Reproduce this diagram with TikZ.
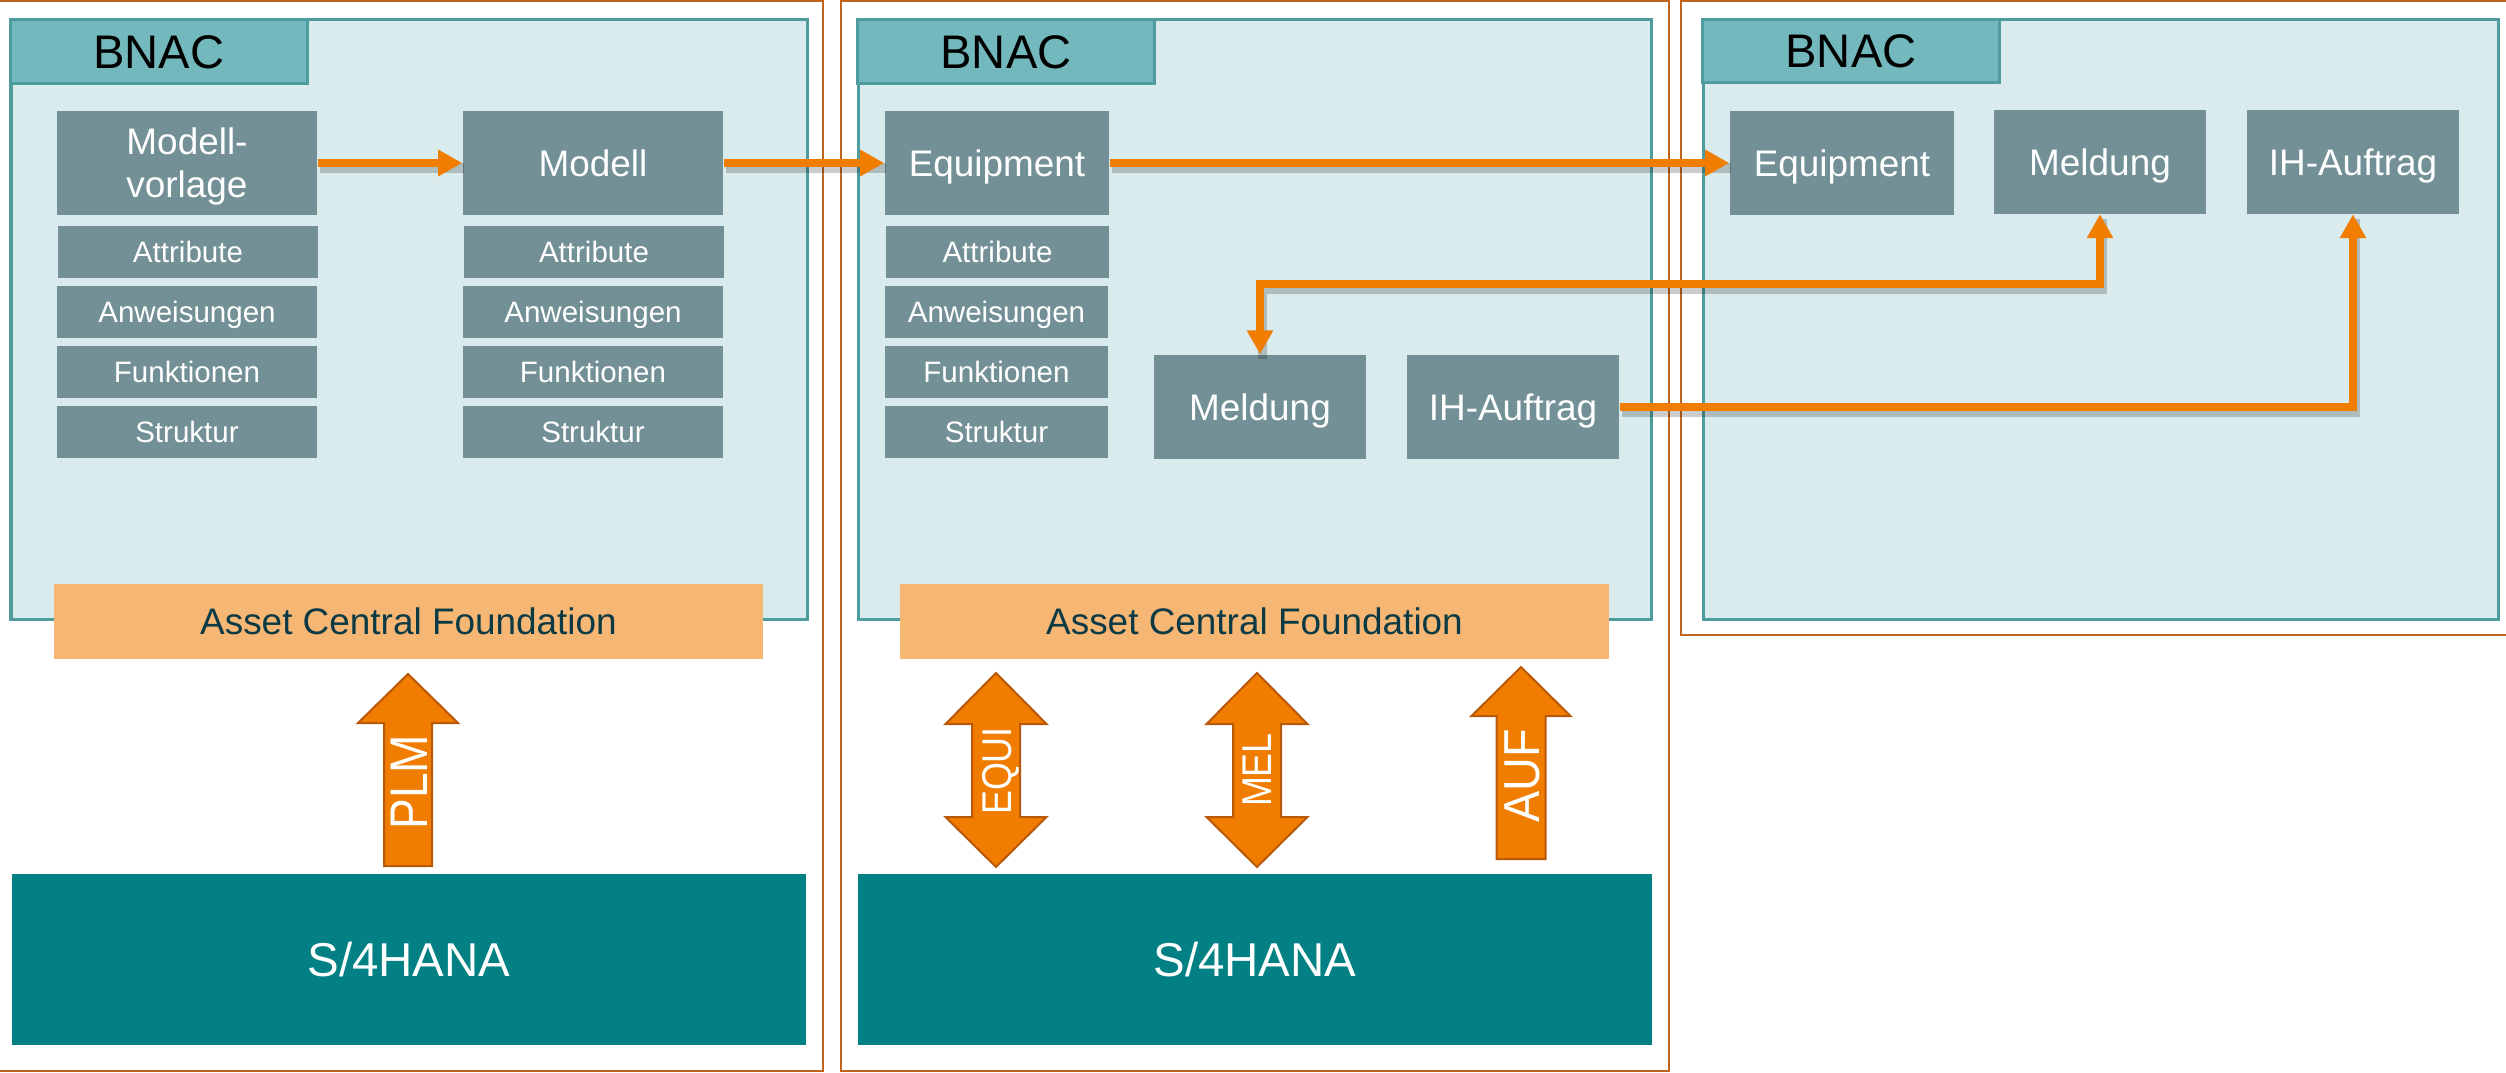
\documentclass[tikz,border=0pt]{standalone}
\usepackage{fontspec}
\setmainfont{Liberation Sans}
\usepackage{graphicx}
\usetikzlibrary{arrows.meta}
\definecolor{frameC}{HTML}{C0651E}
\definecolor{contF}{HTML}{DAEBEE}
\definecolor{contB}{HTML}{4E9C9E}
\definecolor{tabF}{HTML}{73B8BC}
\definecolor{boxF}{HTML}{729096}
\definecolor{arrC}{HTML}{F07C00}
\definecolor{arrB}{HTML}{B8590A}
\definecolor{acfF}{HTML}{F6B774}
\definecolor{acfT}{HTML}{0B3A45}
\definecolor{sfourF}{HTML}{028083}
\begin{document}
\begin{tikzpicture}[x=0.01cm,y=-0.01cm,
 frame/.style={draw=frameC,line width=0.025cm},
 cont/.style={draw=contB,fill=contF,line width=0.03cm},
 tabbox/.style={draw=contB,fill=tabF,line width=0.03cm,minimum width=2.96cm,minimum height=0.63cm,inner sep=0pt,font=\fontsize{13.4}{14}\selectfont,text height=9.6pt,text depth=0pt},
 gbox/.style={fill=boxF,text=white,inner sep=0pt,minimum height=1.04cm,font=\fontsize{10.5}{12.2}\selectfont,text height=7.5pt,text depth=0pt},
 sbox/.style={fill=boxF,text=white,inner sep=0pt,minimum height=0.51cm,font=\fontsize{8.4}{10}\selectfont,text height=6pt,text depth=0pt},
 acf/.style={fill=acfF,text=acfT,inner sep=0pt,minimum width=7.09cm,minimum height=0.75cm,font=\fontsize{10.5}{12}\selectfont,text height=7.5pt,text depth=0pt},
 sfour/.style={fill=sfourF,text=white,inner sep=0pt,minimum width=7.94cm,minimum height=1.71cm,font=\fontsize{13.5}{15}\selectfont,text height=9.7pt,text depth=0pt},
 conn/.style={draw=arrC,line width=0.075cm},
 shadowline/.style={draw=black,opacity=0.2,line width=0.09cm,transform canvas={xshift=0.02cm,yshift=-0.05cm}},
 otip/.tip={Triangle[length=0.24cm,width=0.25cm]},
 blockarrow/.style={fill=arrC,draw=arrB,line width=0.02cm,line join=miter},
 blabel/.style={text=white,rotate=90,inner sep=0pt,text depth=0pt}
]
\useasboundingbox (0,0) rectangle (2506,1073);
% outer frames
\draw[frame] (-2,1) rectangle (823,1071);
\draw[frame] (841,1) rectangle (1669,1071);
\draw[frame] (1681,1) rectangle (2515,635);
% containers
\draw[cont] (11,20) rectangle (807,619);
\draw[cont] (858,20) rectangle (1651,619);
\draw[cont] (1703,20) rectangle (2498,619);
\node[tabbox] (tab1) at (159,51.5) {BNAC};
\node[tabbox] (tab2) at (1006,51.5) {BNAC};
\node[tabbox] (tab3) at (1851,51) {BNAC};
% panel 1
\node[gbox,minimum width=2.60cm,align=center,text height=19.7pt,text depth=0pt] (mv) at (187,163) {Modell-\\vorlage};
\node[sbox,minimum width=2.60cm] (a1) at (188,252) {Attribute};
\node[sbox,minimum width=2.60cm] (w1) at (187,312) {Anweisungen};
\node[sbox,minimum width=2.60cm] (f1) at (187,372) {Funktionen};
\node[sbox,minimum width=2.60cm] (s1) at (187,432) {Struktur};
\node[gbox,minimum width=2.60cm] (mo) at (593,163) {Modell};
\node[sbox,minimum width=2.60cm] (a2) at (594,252) {Attribute};
\node[sbox,minimum width=2.60cm] (w2) at (593,312) {Anweisungen};
\node[sbox,minimum width=2.60cm] (f2) at (593,372) {Funktionen};
\node[sbox,minimum width=2.60cm] (s2) at (593,432) {Struktur};
% panel 2
\node[gbox,minimum width=2.24cm] (eq2) at (997,163) {Equipment};
\node[sbox,minimum width=2.23cm] (a3) at (997.5,252) {Attribute};
\node[sbox,minimum width=2.23cm] (w3) at (996.5,312) {Anweisungen};
\node[sbox,minimum width=2.23cm] (f3) at (996.5,372) {Funktionen};
\node[sbox,minimum width=2.23cm] (s3) at (996.5,432) {Struktur};
\node[gbox,minimum width=2.12cm] (me2) at (1260,407) {Meldung};
\node[gbox,minimum width=2.12cm] (ih2) at (1513,407) {IH-Auftrag};
% panel 3
\node[gbox,minimum width=2.24cm,minimum height=1.03cm] (eq3) at (1842,163) {Equipment};
\node[gbox,minimum width=2.12cm,minimum height=1.03cm] (me3) at (2100,162) {Meldung};
\node[gbox,minimum width=2.12cm,minimum height=1.03cm] (ih3) at (2353,162) {IH-Auftrag};
% foundation and S/4HANA
\node[acf] (acf1) at (408.5,621.5) {Asset Central Foundation};
\node[acf] (acf2) at (1254.5,621.5) {Asset Central Foundation};
\node[sfour] (sf1) at (409,959.5) {S/4HANA};
\node[sfour] (sf2) at (1255,959.5) {S/4HANA};
% block arrows
\draw[blockarrow] (408,674) -- (458,723) -- (432,723) -- (432,866) -- (384,866) -- (384,723) -- (358,723) -- cycle;
\node[blabel,font=\fontsize{13.1}{14}\selectfont] (plm) at (409,782) {\scalebox{1}[1.15]{PLM}};
\draw[blockarrow] (996,673) -- (1046.5,724) -- (1020,724) -- (1020,817) -- (1046.5,817) -- (996,867) -- (945.5,817) -- (972,817) -- (972,724) -- (945.5,724) -- cycle;
\node[blabel,font=\fontsize{10.2}{12}\selectfont] (equi) at (997,771) {\scalebox{1}[1.16]{EQUI}};
\draw[blockarrow] (1257,673) -- (1307.5,724) -- (1281,724) -- (1281,817) -- (1307.5,817) -- (1257,867) -- (1206.5,817) -- (1233,817) -- (1233,724) -- (1206.5,724) -- cycle;
\node[blabel,font=\fontsize{10.2}{12}\selectfont] (mel) at (1257,770) {\scalebox{1}[1.16]{MEL}};
\draw[blockarrow] (1521,667) -- (1570.5,716) -- (1545.5,716) -- (1545.5,859) -- (1496.5,859) -- (1496.5,716) -- (1471.5,716) -- cycle;
\node[blabel,font=\fontsize{13.3}{14}\selectfont] (auf) at (1522,776) {\scalebox{1}[1.08]{AUF}};
% connectors
\coordinate (mrow) at (0,284);
\draw[shadowline] (mv.east) -- (mo.west);
\draw[shadowline] (mo.east) -- (eq2.west);
\draw[shadowline] (eq2.east) -- (eq3.west);
\draw[shadowline] (me3.south) -- (me3.south |- mrow) -- (me2.north |- mrow) -- (me2.north);
\draw[shadowline] (ih2.east) -- (ih3.south |- ih2.east) -- (ih3.south);
\draw[conn,-otip] (mv.east) -- (mo.west);
\draw[conn,-otip] (mo.east) -- (eq2.west);
\draw[conn,-otip] (eq2.east) -- (eq3.west);
\draw[conn,otip-otip] (me3.south) -- (me3.south |- mrow) -- (me2.north |- mrow) -- (me2.north);
\draw[conn,-otip] (ih2.east) -- (ih3.south |- ih2.east) -- (ih3.south);
\end{tikzpicture}
\end{document}
